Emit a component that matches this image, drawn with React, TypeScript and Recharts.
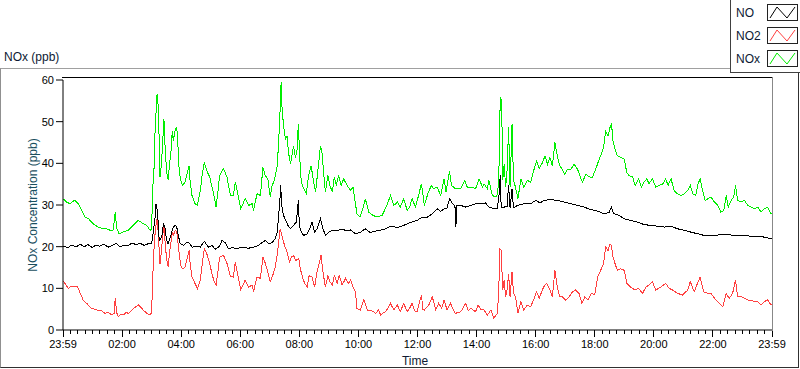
import React from 'react';
import { LineChart, Line, XAxis, YAxis } from 'recharts';

// time in minutes after 23:59 (start), value in ppb
const NO_SERIES: [number, number][] = [
  [1,20.1],[10,19.8],[18,20.4],[26,19.9],[35,20.6],[43,20],[51,20.5],[59,19.8],[67,20.4],[75,20.1],[83,20.6],[92,19.9],[100,20.3],[108,20.8],[116,19.9],[124,20.4],[132,20.2],[140,20.9],[148,20.5],[157,20.8],[165,20.3],[173,20.7],[180,20.7],[182,22.3],[187,27.1],[189,30.3],[192,28.3],[195,22.3],[197,21.5],[201,22.7],[204,25.5],[207,24.7],[210,21.9],[213,20.7],[216,21.5],[221,23.5],[224,24.7],[228,25.1],[231,24.7],[235,22.3],[238,20.7],[245,20.3],[252,21.1],[255,21.1],[262,19.9],[272,20],[279,19.9],[287,21.3],[295,19.9],[303,20.3],[309,19.4],[318,20.1],[323,21.5],[330,20.9],[336,19.5],[344,19.8],[353,19.5],[360,19.8],[367,19.9],[376,19.6],[387,19.9],[397,20.3],[401,20.7],[411,21.5],[418,20.7],[424,20.9],[431,21.9],[435,23.5],[438,27.5],[441,31.9],[442,34.7],[445,29.1],[448,27.5],[452,26.3],[457,25.1],[462,24.3],[468,25.1],[474,25.9],[478,31.1],[480,25],[484,23.5],[489,22.7],[496,23.1],[501,24.3],[506,25.9],[511,23.5],[516,24.3],[523,26.7],[527,24.7],[533,22.7],[540,23.5],[547,23.9],[553,23.9],[560,24],[567,24.2],[574,23.9],[584,24],[594,23.1],[604,23.4],[614,24.3],[624,23.4],[638,23.8],[651,24.1],[665,24.9],[679,24.6],[692,25.1],[699,25.5],[709,25.9],[719,26.3],[730,27.1],[740,27.1],[750,27.9],[760,29.1],[767,28.5],[774,29.1],[780,29.3],[785,31.5],[791,30.3],[796,29.9],[798,24.7],[800,29.9],[808,29.9],[818,29.5],[828,29.9],[838,30.3],[848,30.3],[858,30.5],[865,29.5],[875,29.1],[882,29.1],[886,32.7],[888,37.1],[890,29.3],[896,29.5],[902,29.7],[905,34.7],[908,29.3],[912,33.9],[915,29.3],[923,29.9],[936,30.3],[950,30.3],[960,31.1],[969,30.5],[977,31.1],[991,31.3],[1004,31.1],[1018,30.7],[1031,30.3],[1045,29.9],[1058,29.5],[1072,28.9],[1086,28.5],[1099,27.9],[1109,28.2],[1114,29.5],[1118,28],[1129,27.5],[1140,26.7],[1153,26.3],[1167,25.9],[1180,25.3],[1194,25.1],[1208,24.9],[1221,24.7],[1235,24.9],[1248,24.3],[1262,23.9],[1275,23.5],[1289,23.1],[1302,22.7],[1316,22.7],[1330,22.8],[1343,22.9],[1357,22.8],[1370,22.7],[1384,22.7],[1397,22.5],[1411,22.5],[1424,22.3],[1438,21.9],[1440,22]
];

const NO2_SERIES: [number, number][] = [
  [1,11.8],[5,11],[11,10],[15,10.4],[21,10.5],[28,10.5],[32,9.8],[35,8.8],[41,7.2],[48,6.4],[53,5.8],[58,5.2],[65,5],[72,4.6],[78,4.7],[85,4],[92,4.2],[99,3.6],[104,4],[106,7.6],[109,4.2],[112,3.2],[118,3.8],[123,3.6],[128,4.2],[133,4],[138,4.6],[143,5.2],[148,5.6],[153,6],[157,5.6],[163,4.8],[170,4],[177,3.6],[180,4.2],[182,12],[185,19.9],[188,24.7],[191,26.7],[193,23.9],[195,19.9],[197,15.9],[200,19.1],[203,23.1],[205,25.5],[208,19.9],[211,16.7],[214,15.1],[216,18.3],[219,20.7],[222,23.5],[224,22.7],[228,23.9],[231,23.5],[233,21.5],[236,18.3],[239,15.5],[243,14.7],[248,15.1],[253,17.5],[256,19.1],[258,16.3],[262,12.7],[268,11.2],[273,10],[279,12],[282,15.1],[287,19.5],[292,18.3],[298,15.9],[301,14.3],[306,12],[311,10.8],[315,14.3],[318,17.5],[326,17.9],[333,16],[340,12.8],[346,12.7],[350,16.3],[357,12],[361,9.6],[370,12],[377,10.3],[384,10.8],[387,9.2],[394,12.7],[401,12.4],[406,17.5],[411,16],[416,13.9],[421,11.6],[426,13.1],[431,15.1],[435,17.9],[438,21.1],[441,24.3],[443,23.5],[446,21.9],[450,20.3],[455,18.7],[460,16.3],[464,17.5],[468,17.9],[473,16.7],[479,17.1],[482,14.7],[487,12.4],[491,11.2],[496,10.3],[500,13.1],[506,12.7],[511,10.3],[516,13.9],[521,16.3],[524,17.9],[528,13.9],[533,10.3],[538,13.1],[542,11.6],[547,10.8],[551,13.1],[557,11.2],[561,13.1],[567,10.8],[574,12.4],[580,11.2],[584,12],[589,10.3],[594,9.2],[597,5.2],[604,4.8],[611,7.2],[618,4.8],[624,4.8],[631,4.4],[635,4],[641,4.8],[645,3.6],[651,4.2],[655,4.4],[661,5.4],[665,6.4],[672,4.8],[679,6],[685,4.4],[692,6.4],[699,4.4],[704,5.2],[709,6.4],[714,4.6],[719,4.4],[728,8.4],[731,5],[734,4.8],[743,6],[750,8],[757,4.8],[763,6.4],[769,5.2],[774,7.2],[780,4.8],[787,6.4],[792,5],[797,4],[808,4.4],[818,6.4],[823,4.6],[828,5.2],[838,4.4],[843,6],[848,5],[855,4.8],[862,3.6],[869,4.8],[875,2.8],[882,4],[885,8.8],[887,19.5],[890,19.1],[893,9.6],[896,12],[899,8],[902,9.6],[905,13.5],[908,8],[912,13.9],[915,8.8],[919,8],[924,4],[930,6.8],[936,4.8],[943,6],[950,5.6],[957,7.6],[962,9.2],[967,7.6],[976,10.3],[982,11.2],[989,9.6],[994,8],[999,14.3],[1004,10.3],[1009,8],[1014,8],[1021,7.2],[1028,8],[1035,9.2],[1041,9.6],[1048,8.8],[1054,6.4],[1060,8],[1066,7.2],[1073,8.8],[1080,8.4],[1086,12.7],[1092,14.3],[1098,16],[1102,19.9],[1107,19.1],[1111,20.7],[1114,20.3],[1117,17.5],[1121,16],[1126,14.3],[1133,14.7],[1140,14.3],[1145,11.2],[1153,10.3],[1162,9.6],[1169,10],[1177,8.8],[1184,10.3],[1190,10.8],[1197,11.6],[1204,9.6],[1214,10.3],[1224,11.2],[1231,10],[1238,9.6],[1248,8.8],[1258,8.4],[1269,9.6],[1274,11.6],[1282,9.2],[1290,11.6],[1294,12.7],[1301,9.2],[1309,8.8],[1316,8.8],[1326,7.2],[1333,6.4],[1340,5.6],[1347,8.8],[1353,7.6],[1360,8.8],[1366,12],[1370,8],[1377,8],[1384,7.6],[1391,7.2],[1397,7.2],[1404,6.8],[1411,6.8],[1418,6],[1424,6.8],[1431,7.2],[1438,6],[1440,6.2]
];

const NOX_SERIES: [number, number][] = [
  [1,31.5],[6,30.8],[14,30.3],[20,30.9],[24,31.1],[31,30.3],[38,28.7],[45,27.1],[51,26.8],[55,26.3],[61,25.5],[71,24.7],[81,24.3],[89,24.3],[96,23.9],[102,24],[106,28.3],[109,24.5],[114,23.1],[122,23.5],[132,23.9],[142,25.1],[153,26.3],[163,25.5],[170,25.1],[177,23.9],[180,24.2],[182,33.5],[185,39],[187,47.8],[191,56.6],[193,54.2],[195,47],[197,36.7],[200,39.8],[203,46.2],[205,50.6],[208,42.2],[211,37.5],[214,35.9],[216,39.8],[219,42.2],[222,47.8],[224,45.4],[228,48.2],[231,48.6],[233,45.4],[236,38.2],[239,35.9],[243,34.7],[248,35.5],[253,37.9],[256,39.4],[258,35.9],[262,32.3],[268,30.3],[273,30],[279,33.5],[282,36.7],[287,40.2],[292,38.2],[298,36.7],[301,35.1],[306,32.7],[311,29.5],[315,33.5],[318,37.1],[326,38.7],[333,36.7],[340,32.3],[346,32.3],[350,35.5],[357,31.5],[361,29.1],[370,31.5],[377,29.9],[384,30.3],[387,28.7],[394,32.7],[401,32.3],[406,39],[411,37],[416,36.3],[421,31.9],[424,34.3],[430,36.3],[435,39.4],[438,45],[441,53],[443,59.4],[445,53],[448,49],[452,45.8],[455,46.6],[458,42.6],[462,39.8],[465,41.8],[468,44.2],[472,41.4],[475,42.6],[478,49.4],[481,41],[484,35.5],[489,33.9],[494,32.7],[499,37.1],[504,39.4],[508,36.3],[513,33.1],[518,38.7],[523,44.2],[526,42.6],[529,38.2],[533,33.1],[538,37.1],[542,34.7],[547,33.1],[551,36.7],[555,34.7],[560,37.1],[565,34.7],[570,36.3],[577,34.7],[584,33.5],[589,34.3],[594,30.3],[597,27.9],[603,27.1],[610,29.5],[614,31.5],[621,28.3],[630,27.5],[638,27.1],[648,27.5],[658,29.9],[665,32.3],[672,29.9],[679,30.7],[685,29.5],[692,31.5],[699,28.7],[704,29.5],[709,31.5],[716,29.5],[723,32.7],[728,35.1],[734,29.9],[741,32.7],[748,34.7],[753,33.9],[760,34.3],[767,32.3],[774,36.3],[778,33.1],[785,38.2],[789,34.7],[797,33.9],[808,33.9],[816,35.9],[821,34.3],[831,34.3],[838,33.9],[845,36.3],[852,34.3],[855,35.1],[862,33.9],[865,35.9],[872,32.3],[879,31.9],[883,32.6],[886,40.6],[888,55.8],[891,55],[893,35.9],[896,39.8],[899,34.3],[902,38.5],[905,48.6],[908,34.3],[912,49.4],[915,35.9],[919,34.3],[924,31.5],[930,36.3],[936,34.3],[943,35.9],[950,35.5],[957,38.7],[962,40.6],[967,38.8],[974,40.2],[979,41.8],[984,39.8],[989,41.4],[994,39.4],[999,45],[1004,41.8],[1009,39.4],[1014,38.6],[1019,37.4],[1025,38.6],[1031,38.4],[1038,39.8],[1045,38.6],[1052,36.3],[1055,35.5],[1062,37.4],[1068,36.8],[1075,36.6],[1082,38.6],[1089,41],[1092,41.8],[1098,43.8],[1102,47.8],[1107,46.6],[1111,48.6],[1114,49.6],[1117,45.4],[1121,43.4],[1126,41.8],[1133,41.4],[1140,41],[1145,37.8],[1150,37],[1157,36.7],[1162,34.7],[1169,36.3],[1175,34.3],[1180,35.5],[1186,36.3],[1190,35.1],[1197,36.3],[1204,34.3],[1211,34.7],[1218,35],[1224,36.3],[1229,34.7],[1235,36.3],[1241,33.5],[1248,32.7],[1255,32.3],[1262,32.7],[1269,33.5],[1274,34.7],[1279,32.7],[1285,32.3],[1290,35.1],[1294,36.3],[1299,33.5],[1304,31.1],[1310,31.5],[1316,31.9],[1323,30.7],[1330,29.9],[1336,28.3],[1342,28.7],[1347,32.3],[1351,29.5],[1357,31.1],[1362,31.9],[1366,34.7],[1370,31.1],[1377,30.7],[1384,31.1],[1391,29.9],[1397,29.5],[1404,29.1],[1411,29.5],[1418,28.3],[1424,29.1],[1431,29.5],[1438,27.9],[1440,28]
];

const Y_TICKS = [0, 10, 20, 30, 40, 50, 60];
const MAJOR_TIMES = [0, 120, 240, 360, 480, 600, 720, 840, 960, 1080, 1200, 1320, 1440];
const MAJOR_LABELS = ['23:59', '02:00', '04:00', '06:00', '08:00', '10:00', '12:00', '14:00', '16:00', '18:00', '20:00', '22:00', '23:59'];
const MINOR_STEP = 15;
const X_TICKS: number[] = [];
for (let t = 0; t <= 1440; t += MINOR_STEP) X_TICKS.push(t);

const SERIES_NAMES = ['NO', 'NO2', 'NOx'];
const COLORS = ['#000000', '#ff4040', '#00ee00'];

const toRows = (s: [number, number][]) => s.map(([t, v]) => ({ t, v }));

const FONT = '"Liberation Sans", Arial, sans-serif';

const XTick = (props: any) => {
  const { x, y, payload } = props;
  const idx = MAJOR_TIMES.indexOf(payload.value);
  const major = idx >= 0;
  return (
    <g>
      <line x1={x} x2={x} y1={y} y2={y + (major ? 7 : 4)} stroke="#000" shapeRendering="crispEdges" />
      {major && (
        <text x={x} y={y + 18} textAnchor="middle" fontSize={11} fill="#000" fontFamily={FONT}>
          {MAJOR_LABELS[idx]}
        </text>
      )}
    </g>
  );
};

const Swatch = ({ color }: { color: string }) => (
  <svg width={31} height={17} style={{ display: 'block' }}>
    <rect x={0.5} y={0.5} width={30} height={16} fill="#fff" stroke="#222" />
    <polyline points="3,14 10,3 20,14 28,3" fill="none" stroke={color} strokeWidth={1} />
  </svg>
);

export default function App() {
  const rows = [toRows(NO_SERIES), toRows(NO2_SERIES), toRows(NOX_SERIES)];
  return (
    <div style={{ position: 'absolute', left: 0, top: 0, width: 800, height: 369, background: '#fff', fontFamily: FONT, overflow: 'hidden' }}>
      {/* outer panel */}
      <div style={{ position: 'absolute', left: 0, top: 68, width: 799, height: 300, boxSizing: 'border-box', borderTop: '1px solid #a0a0a0', borderLeft: '1px solid #909090', borderBottom: '1px solid #303030', borderRight: '1px solid #303030' }} />
      <div style={{ position: 'absolute', left: 0, top: 0 }}>
        <LineChart width={800} height={369} data={rows[0]} margin={{ top: 80, right: 28, bottom: 9, left: 0 }}>
          <XAxis
            dataKey="t"
            type="number"
            domain={[0, 1440]}
            ticks={X_TICKS}
            interval={0}
            tick={<XTick />}
            tickLine={false}
            tickSize={0}
            tickMargin={0}
            height={30}
            axisLine={{ stroke: '#000' }}
            allowDuplicatedCategory={false}
          />
          <YAxis
            type="number"
            domain={[0, 60]}
            ticks={Y_TICKS}
            interval={0}
            width={63}
            tickSize={7}
            tickMargin={2}
            tickLine={{ stroke: '#000' }}
            axisLine={{ stroke: '#000' }}
            tick={{ fill: '#000', fontSize: 11, fontFamily: FONT }}
          />
          <Line data={rows[2]} dataKey="v" name="NOx" stroke={COLORS[2]} strokeWidth={1} dot={false} isAnimationActive={false} type="linear" shapeRendering="crispEdges" />
          <Line data={rows[1]} dataKey="v" name="NO2" stroke={COLORS[1]} strokeWidth={1} dot={false} isAnimationActive={false} type="linear" shapeRendering="crispEdges" />
          <Line data={rows[0]} dataKey="v" name="NO" stroke={COLORS[0]} strokeWidth={1} dot={false} isAnimationActive={false} type="linear" shapeRendering="crispEdges" />
        </LineChart>
      </div>
      {/* plot frame top and right */}
      <div style={{ position: 'absolute', left: 62, top: 77, width: 711, height: 1, background: '#000' }} />
      <div style={{ position: 'absolute', left: 772, top: 77, width: 1, height: 254, background: '#888' }} />
      {/* titles */}
      <div style={{ position: 'absolute', left: 4, top: 50, fontSize: 12, lineHeight: '14px', color: '#0d1a33', whiteSpace: 'nowrap' }}>NOx (ppb)</div>
      <div style={{ position: 'absolute', left: 33, top: 205, fontSize: 12, lineHeight: '14px', color: '#1a4f5f', whiteSpace: 'nowrap', transform: 'translate(-50%, -50%) rotate(-90deg)' }}>NOx Concentration (ppb)</div>
      <div style={{ position: 'absolute', left: 415, top: 354, fontSize: 12, lineHeight: '14px', color: '#0d1a33', whiteSpace: 'nowrap', transform: 'translateX(-50%)' }}>Time</div>
      {/* legend */}
      <div style={{ position: 'absolute', left: 730, top: -1, width: 70, height: 74, boxSizing: 'border-box', background: '#fff', borderLeft: '1px solid #404040', borderBottom: '1px solid #404040', borderTop: '1px solid #404040' }}>
        {SERIES_NAMES.map((n, i) => (
          <div key={n} style={{ position: 'absolute', left: 0, top: 4 + i * 22.8, width: 69, height: 17 }}>
            <div style={{ position: 'absolute', left: 5, top: 2, fontSize: 12, lineHeight: '14px', color: '#0d1a33' }}>{n}</div>
            <div style={{ position: 'absolute', left: 36, top: 0 }}>
              <Swatch color={COLORS[i]} />
            </div>
          </div>
        ))}
      </div>
    </div>
  );
}
